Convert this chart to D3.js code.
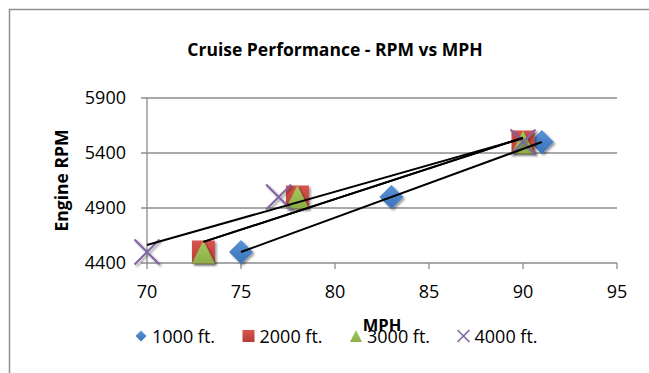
<!DOCTYPE html>
<html>
<head>
<meta charset="utf-8">
<script src="https://cdn.jsdelivr.net/npm/d3@7"></script>
<style>
  body { margin: 0; background: #fff; }
  text { font-family: "Open Sans", sans-serif; fill: #000; }
</style>
</head>
<body>
<div class="plot"></div>
<script>
// Data
const seriesNames = ["1000 ft.", "2000 ft.", "3000 ft.", "4000 ft."];
const mph1000 = [75, 83, 91];
const rpm1000 = [4500, 5000, 5500];
const mph2000 = [73, 78, 90];
const rpm2000 = [4500, 5000, 5500];
const mph3000 = [73, 78, 90];
const rpm3000 = [4500, 5000, 5500];
const mph4000 = [70, 77, 90];
const rpm4000 = [4500, 5000, 5500];
const xTicks = [70, 75, 80, 85, 90, 95];
const yTicks = [4400, 4900, 5400, 5900];

const margin = {top: 98, right: 32, bottom: 110, left: 147};
const W = 649, H = 373;
const w = W - margin.left - margin.right;
const h = H - margin.top - margin.bottom;

const colors = ["#4F81BD", "#C0504D", "#9BBB59", "#8064A2"];
const shapes = ["diamond", "square", "triangle", "cross"];

const seriesData = [
  {name: seriesNames[0], xs: mph1000, ys: rpm1000},
  {name: seriesNames[1], xs: mph2000, ys: rpm2000},
  {name: seriesNames[2], xs: mph3000, ys: rpm3000},
  {name: seriesNames[3], xs: mph4000, ys: rpm4000}
].map((s, i) => ({...s, color: colors[i], shape: shapes[i],
  points: s.xs.map((x, j) => ({x: x, y: s.ys[j]}))}));

const svgRoot = d3.select(".plot").append("svg")
    .attr("width", W)
    .attr("height", H);

svgRoot.append("rect").attr("width", W).attr("height", H).attr("fill", "#fff");

// chart frame (runs off the right and bottom of the picture)
svgRoot.append("rect")
    .attr("x", 9.5).attr("y", 9.5)
    .attr("width", 700).attr("height", 420)
    .attr("fill", "none")
    .attr("stroke", "#8e8e8e")
    .attr("stroke-width", 1.5);

const defs = svgRoot.append("defs");
const shadow = defs.append("filter").attr("id", "shadow")
    .attr("x", "-50%").attr("y", "-50%").attr("width", "200%").attr("height", "200%");
shadow.append("feDropShadow")
    .attr("dx", 1.8).attr("dy", 1.8).attr("stdDeviation", 1.3)
    .attr("flood-color", "#000").attr("flood-opacity", 0.4);

// soft gradients like the office markers
const grads = [["#5b93d6", "#3a72b8"], ["#d9544c", "#b63c36"], ["#a5c95e", "#8cad48"]];
grads.forEach((g, i) => {
  const lg = defs.append("linearGradient").attr("id", "grad" + i)
      .attr("x1", 0).attr("y1", 0).attr("x2", 0).attr("y2", 1);
  lg.append("stop").attr("offset", "0%").attr("stop-color", g[0]);
  lg.append("stop").attr("offset", "100%").attr("stop-color", g[1]);
});

const svg = svgRoot.append("g")
    .attr("transform", "translate(" + margin.left + "," + margin.top + ")");

const x = d3.scaleLinear().domain([70, 95]).range([0, w]);
const y = d3.scaleLinear().domain([4400, 5900]).range([h, 0]);

// marker path, centred on 0,0
function markerPath(shape, r) {
  const p = d3.path();
  if (shape === "diamond") {
    p.moveTo(0, -r); p.lineTo(r, 0); p.lineTo(0, r); p.lineTo(-r, 0); p.closePath();
  } else if (shape === "square") {
    p.rect(-r, -r, 2 * r, 2 * r);
  } else if (shape === "triangle") {
    p.moveTo(0, -r); p.lineTo(r, r); p.lineTo(-r, r); p.closePath();
  } else {
    p.moveTo(-r, -r); p.lineTo(r, r); p.moveTo(r, -r); p.lineTo(-r, r);
  }
  return p.toString();
}

// gridlines
svg.append("g")
  .selectAll("line")
  .data(yTicks)
  .enter().append("line")
    .attr("x1", -6).attr("x2", w)
    .attr("y1", d => y(d)).attr("y2", d => y(d))
    .attr("stroke", "#8c8c8c")
    .attr("stroke-width", 1.3);

// y axis line
svg.append("line")
    .attr("x1", 0).attr("x2", 0).attr("y1", 0).attr("y2", h)
    .attr("stroke", "#8c8c8c").attr("stroke-width", 1.3);

// x axis ticks
svg.append("g")
  .selectAll("line")
  .data(xTicks)
  .enter().append("line")
    .attr("x1", d => x(d)).attr("x2", d => x(d))
    .attr("y1", h).attr("y2", h + 6)
    .attr("stroke", "#8c8c8c").attr("stroke-width", 1.3);

// tick labels
svg.append("g")
  .selectAll("text")
  .data(yTicks)
  .enter().append("text")
    .attr("x", -21)
    .attr("y", d => y(d))
    .attr("dy", "0.36em")
    .attr("text-anchor", "end")
    .style("font-size", "18px")
    .text(d => d);

svg.append("g")
  .selectAll("text")
  .data(xTicks)
  .enter().append("text")
    .attr("x", d => x(d))
    .attr("y", h + 35)
    .attr("text-anchor", "middle")
    .style("font-size", "18px")
    .text(d => d);

// markers
seriesData.forEach((s, i) => {
  const r = s.shape === "diamond" ? 12 : s.shape === "cross" ? 12.5 : 11.5;
  svg.append("g")
    .selectAll("path")
    .data(s.points)
    .enter().append("path")
      .attr("transform", d => "translate(" + x(d.x) + "," + y(d.y) + ")")
      .attr("d", markerPath(s.shape, r))
      .attr("fill", s.shape === "cross" ? "none" : "url(#grad" + i + ")")
      .attr("stroke", s.shape === "cross" ? s.color : "none")
      .attr("stroke-width", 2)
      .attr("filter", "url(#shadow)");
});

// linear trendlines, one per series
seriesData.forEach(s => {
  const mx = d3.mean(s.points, d => d.x);
  const my = d3.mean(s.points, d => d.y);
  const sxy = d3.sum(s.points, d => (d.x - mx) * (d.y - my));
  const sxx = d3.sum(s.points, d => (d.x - mx) * (d.x - mx));
  const slope = sxy / sxx;
  const ext = d3.extent(s.points, d => d.x);
  svg.append("line")
      .attr("x1", x(ext[0])).attr("y1", y(my + slope * (ext[0] - mx)))
      .attr("x2", x(ext[1])).attr("y2", y(my + slope * (ext[1] - mx)))
      .attr("stroke", "#000")
      .attr("stroke-width", 2);
});

// title and axis titles
svgRoot.append("text")
    .attr("x", 335).attr("y", 56)
    .attr("text-anchor", "middle")
    .style("font-size", "17.5px")
    .style("font-weight", "bold")
    .text("Cruise Performance - RPM vs MPH");

svgRoot.append("text")
    .attr("transform", "translate(68," + (margin.top + h / 2) + ") rotate(-90)")
    .attr("text-anchor", "middle")
    .style("font-size", "17.5px")
    .style("font-weight", "bold")
    .text("Engine RPM");

// legend
const legend = svgRoot.append("g")
    .attr("transform", "translate(141, 336)")
  .selectAll("g")
  .data(seriesData)
  .enter().append("g")
    .attr("transform", (d, i) => "translate(" + (i * 107.5) + ",0)");

legend.append("path")
    .attr("d", d => markerPath(d.shape, d.shape === "diamond" ? 5.5 : 6))
    .attr("fill", (d, i) => d.shape === "cross" ? "none" : "url(#grad" + i + ")")
    .attr("stroke", d => d.shape === "cross" ? d.color : "none")
    .attr("stroke-width", 1.6);

legend.append("text")
    .attr("x", 11)
    .attr("y", 7)
    .style("font-size", "18px")
    .text(d => d.name);

// x axis title sits on top of the legend, as in the original
svgRoot.append("text")
    .attr("x", margin.left + w / 2).attr("y", 331)
    .attr("text-anchor", "middle")
    .style("font-size", "16.5px")
    .style("font-weight", "bold")
    .text("MPH");
</script>
</body>
</html>
